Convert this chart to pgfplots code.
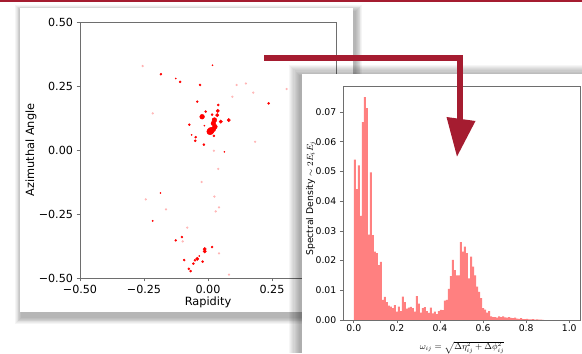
\documentclass[border=0pt]{standalone}
\usepackage{pgfplots}
\pgfplotsset{compat=1.18}
\usepackage{fontspec}
\setmainfont{DejaVu Sans}
\definecolor{crim}{RGB}{165,28,48}
\definecolor{spine}{RGB}{110,110,110}
\begin{document}
\begin{tikzpicture}
\begin{scope}[x=1bp,y=1bp]
\useasboundingbox (0,0) rectangle (582,353);
\clip (0,0) rectangle (582,353);
\fill[white] (0,0) rectangle (582,353);
\fill[crim] (0,351.4) rectangle (582,353);
% left card shadow
\foreach \i in {1,...,8} {
  \fill[black,opacity=0.04] ({22-\i*0.9},{36-\i*0.9}) rectangle ({355+\i*0.9},{341+\i*0.9});
}
\fill[white] (20,41) rectangle (353,345);
\end{scope}

\begin{axis}[at={(80bp,75bp)}, anchor=south west, scale only axis,
  width=256bp, height=256bp,
  xmin=-0.5, xmax=0.5, ymin=-0.5, ymax=0.5,
  axis line style={spine, line width=0.6bp},
  tick style={spine, line width=0.6bp},
  tick align=outside, tick pos=left, major tick length=3.5bp,
  xtick={-0.5,-0.25,0,0.25}, xticklabels={−0.50,−0.25,0.00,0.25},
  ytick={-0.5,-0.25,0,0.25,0.5}, yticklabels={−0.50,−0.25,0.00,0.25,0.50},
  ticklabel style={font=\fontsize{11.2}{13}\selectfont},
  xlabel={Rapidity}, ylabel={Azimuthal Angle},
  label style={font=\fontsize{11.4}{13}\selectfont},
  xlabel style={at={(axis description cs:0.5,-0.094)}, anchor=center},
  ylabel style={at={(axis description cs:-0.191,0.5)}, anchor=center},
]
% faint points
\addplot[only marks, mark=*, mark size=1.0bp, red, opacity=0.2, mark options={draw=none}] coordinates {
(-0.255,0.328) (0.112,0.254) (0.148,0.26) (0.177,0.224) (0.095,0.208) (0.307,0.238)
(-0.216,0.143) (0.023,-0.003) (0.184,0.032) (0.04,-0.074) (-0.025,-0.125) (-0.243,-0.193)
(0.043,-0.224) (-0.164,-0.232) (-0.216,-0.277) (-0.081,-0.303) (0.043,-0.404) (0.082,-0.487)
(0.025,-0.182) (-0.099,-0.357) (0.03,-0.24)
};
% tiny
\addplot[only marks, mark=*, mark size=0.6bp, red, mark options={draw=none}] coordinates {
(-0.126,0.279) (0.018,0.331) (-0.014,0.095) (-0.064,0.059) (0.064,-0.007) (-0.034,-0.414)
(-0.186,-0.168) (-0.216,-0.277)
};
% small
\addplot[only marks, mark=*, mark size=1.05bp, red, mark options={draw=none}] coordinates {
(-0.184,0.296) (-0.109,0.266) (-0.031,0.254) (0.237,0.182) (-0.042,0.189) (0.04,0.176)
(-0.009,0.15) (0.016,0.138) (-0.073,0.099) (-0.048,0.05) (-0.05,0.036) (0.023,0.055)
(-0.016,0.021) (-0.126,-0.353) (-0.102,-0.340) (0.016,-0.379) (-0.051,-0.431)
(-0.093,-0.43) (-0.057,-0.444) (-0.021,-0.436) (-0.075,-0.464) (-0.068,-0.473)
};
% medium
\addplot[only marks, mark=*, mark size=1.7bp, red, mark options={draw=none}] coordinates {
(0.038,0.153) (0.036,0.136) (0.081,0.117) (0.05,0.111) (-0.013,-0.387) (-0.013,-0.396)
(-0.042,-0.425)
};
% large
\addplot[only marks, mark=*, mark size=2.4bp, red, mark options={draw=none}] coordinates {
(-0.023,0.130) (0.025,0.117) (0.021,0.104) (0.027,0.091) (0.021,0.081)
};
% largest
\addplot[only marks, mark=*, mark size=3.3bp, red, mark options={draw=none}] coordinates {
(0.008,0.072) (0.012,0.076)
};
\node[anchor=base east, inner sep=0, yshift=2.5bp, xshift=-1bp, font=\bfseries\fontsize{10.2}{12}\selectfont] at (rel axis cs:1,1) {SPECTER};
\end{axis}

\begin{scope}[x=1bp,y=1bp]
\clip (0,0) rectangle (582,353);
% right card shadow
\foreach \i in {1,...,10} {
  \fill[black,opacity=0.035] ({300-\i*1.1},-20) rectangle (620,{277+\i*1.1});
}
\fill[white] (302,-20) rectangle (620,279);
\end{scope}

\begin{axis}[at={(343bp,33bp)}, anchor=south west, scale only axis,
  width=237bp, height=234bp,
  xmin=-0.05, xmax=1.05, ymin=0, ymax=0.07875,
  scaled y ticks=false, scaled x ticks=false,
  axis line style={spine, line width=0.6bp},
  tick style={spine, line width=0.6bp},
  tick align=outside, tick pos=left, major tick length=3.2bp,
  xtick={0,0.2,0.4,0.6,0.8,1.0}, xticklabels={0.0,0.2,0.4,0.6,0.8,1.0},
  ytick={0,0.01,0.02,0.03,0.04,0.05,0.06,0.07},
  yticklabels={0.00,0.01,0.02,0.03,0.04,0.05,0.06,0.07},
  ticklabel style={font=\fontsize{9.3}{11}\selectfont},
  xticklabel style={inner sep=1.5bp},
  xlabel={$\omega_{ij} = \sqrt{\Delta\eta_{ij}^2 + \Delta\phi_{ij}^2}$},
  ylabel={Spectral Density $\sim 2E_iE_j$},
  label style={font=\fontsize{9.3}{11}\selectfont},
  xlabel style={at={(axis description cs:0.502,-0.118)}, anchor=center, inner sep=0pt, font=\fontsize{8.7}{10}\selectfont},
  ylabel style={at={(axis description cs:-0.135,0.52)}, anchor=center},
]
\addplot[fill=red!50, draw=none, const plot] coordinates {
(0.0000,0.054) (0.0093,0.044) (0.0186,0.052) (0.0279,0.035) (0.0372,0.0666) (0.0465,0.075)
(0.0558,0.0713) (0.0651,0.0287) (0.0744,0.0497) (0.0837,0.0286) (0.0930,0.0230) (0.1023,0.0225)
(0.1116,0.0185) (0.1209,0.0196) (0.1302,0.0068) (0.1395,0.0078) (0.1488,0.0060) (0.1581,0.0048)
(0.1674,0.0045) (0.1767,0.0040) (0.1860,0.0050) (0.1953,0.0028) (0.2046,0.0045) (0.2139,0.0030)
(0.2232,0.0079) (0.2325,0.0060) (0.2418,0.0038) (0.2511,0.0042) (0.2604,0.0044) (0.2697,0.0040)
(0.2790,0.0028) (0.2883,0.0080) (0.2976,0.0055) (0.3069,0.0025) (0.3162,0.0040) (0.3255,0.0043)
(0.3348,0.0030) (0.3441,0.0024) (0.3534,0.0042) (0.3627,0.0022) (0.3720,0.0028) (0.3813,0.0020)
(0.3906,0.0030) (0.3999,0.0034) (0.4092,0.0033) (0.4185,0.0065) (0.4278,0.0068) (0.4371,0.0105)
(0.4464,0.0148) (0.4557,0.0202) (0.4650,0.0168) (0.4743,0.0150) (0.4836,0.0150) (0.4929,0.0262)
(0.5022,0.0230) (0.5115,0.0247) (0.5208,0.0225) (0.5301,0.0140) (0.5394,0.0213) (0.5487,0.0180)
(0.5580,0.0150) (0.5673,0.0112) (0.5766,0.0095) (0.5859,0.0074) (0.5952,0.0040) (0.6045,0.0035)
(0.6138,0.0025) (0.6231,0.0030) (0.6324,0.0012) (0.6417,0.0010) (0.6510,0.0010) (0.6603,0.0008)
(0.6696,0.0012) (0.6789,0.0010) (0.6882,0.0012) (0.6975,0.0009) (0.7068,0.0008) (0.7161,0.0010)
(0.7254,0.0007) (0.7347,0.0006) (0.7440,0.0008) (0.7533,0.0005) (0.7626,0.0004) (0.7719,0.0006)
(0.7812,0.0003) (0.7905,0.0003) (0.7998,0.0004) (0.8091,0.0002) (0.8184,0.0002) (0.8277,0.0003)
(0.8370,0.0001) (0.8463,0.0002) (0.8556,0.0001) (0.8649,0.0001) (0.8742,0.0000) (0.8835,0.0000)
} \closedcycle;
\node[anchor=base east, inner sep=0, yshift=1.8bp, font=\bfseries\fontsize{9}{11}\selectfont] at (rel axis cs:1,1) {SPECTER};
\end{axis}

\begin{scope}[x=1bp,y=1bp]
\clip (0,0) rectangle (582,353);
\draw[crim, line width=6bp, line join=miter] (264,294.5) -- (460,294.5) -- (460,233);
\fill[crim] (446.5,236) -- (475.5,232) -- (457,196.5) -- cycle;
\end{scope}
\end{tikzpicture}
\end{document}
